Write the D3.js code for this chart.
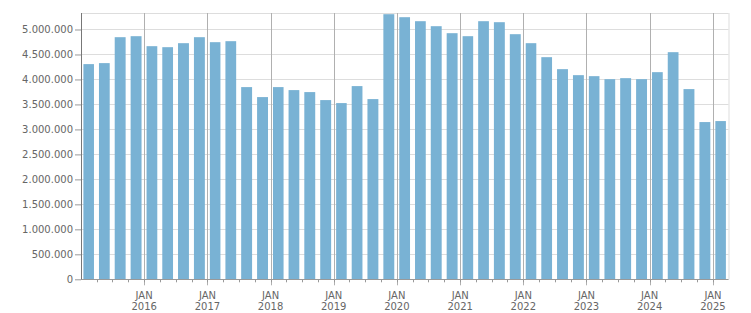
<!DOCTYPE html>
<html>
<head>
<meta charset="utf-8">
<script src="https://cdn.jsdelivr.net/npm/d3@7"></script>
<style>
  body { margin: 0; background: #fff; }
  text { font-family: "DejaVu Sans", sans-serif; font-size: 10px; fill: #666; }
</style>
</head>
<body>
<div id="chart"></div>
<script>
// quarter start dates and values
var quarters = [
  "2015-01-01", "2015-04-01", "2015-07-01", "2015-10-01",
  "2016-01-01", "2016-04-01", "2016-07-01", "2016-10-01",
  "2017-01-01", "2017-04-01", "2017-07-01", "2017-10-01",
  "2018-01-01", "2018-04-01", "2018-07-01", "2018-10-01",
  "2019-01-01", "2019-04-01", "2019-07-01", "2019-10-01",
  "2020-01-01", "2020-04-01", "2020-07-01", "2020-10-01",
  "2021-01-01", "2021-04-01", "2021-07-01", "2021-10-01",
  "2022-01-01", "2022-04-01", "2022-07-01", "2022-10-01",
  "2023-01-01", "2023-04-01", "2023-07-01", "2023-10-01",
  "2024-01-01", "2024-04-01", "2024-07-01", "2024-10-01",
  "2025-01-01"
];

var values = [
  4307000, 4327000, 4846000, 4866000,
  4666000, 4646000, 4726000, 4846000,
  4746000, 4766000, 3847000, 3647000,
  3847000, 3787000, 3747000, 3587000,
  3527000, 3867000, 3607000, 5306000,
  5246000, 5166000, 5066000, 4926000,
  4866000, 5166000, 5146000, 4906000,
  4726000, 4446000, 4206000, 4086000,
  4066000, 4006000, 4026000, 4006000,
  4146000, 4546000, 3807000, 3147000,
  3167000
];

var yTicks = [0, 500000, 1000000, 1500000, 2000000, 2500000, 3000000, 3500000, 4000000, 4500000, 5000000];
var yearLabels = ["2016", "2017", "2018", "2019", "2020", "2021", "2022", "2023", "2024", "2025"];

var svgWidth = 751;
var svgHeight = 313;

var margin = { top: 13, right: 22.5, bottom: 33.7, left: 81 };
var width = svgWidth - margin.left - margin.right;
var height = svgHeight - margin.top - margin.bottom;

var parseDate = d3.timeParse("%Y-%m-%d");

var data = quarters.map(function (q, i) {
  var start = parseDate(q);
  return { start: start, end: d3.timeMonth.offset(start, 3), value: values[i] };
});

var svg = d3.select("#chart")
  .append("svg")
  .attr("width", svgWidth)
  .attr("height", svgHeight);

var chartGroup = svg.append("g")
  .attr("transform", `translate(${margin.left}, ${margin.top})`);

var xScale = d3.scaleTime()
  .domain([parseDate("2015-01-01"), parseDate("2025-04-01")])
  .range([0, width]);

var yScale = d3.scaleLinear()
  .domain([0, 5330000])
  .range([height, 0]);

var locale = d3.formatLocale({ decimal: ",", thousands: ".", grouping: [3], currency: ["", ""] });
var fmt = locale.format(",.0f");

// horizontal grid
chartGroup.append("g")
  .selectAll("line")
  .data(yTicks.concat([5330000]))
  .enter()
  .append("line")
  .attr("x1", 0)
  .attr("x2", width)
  .attr("y1", d => Math.round(yScale(d)) + 0.5)
  .attr("y2", d => Math.round(yScale(d)) + 0.5)
  .attr("stroke", "#dddddd");

// right border
chartGroup.append("line")
  .attr("x1", width + 0.5)
  .attr("x2", width + 0.5)
  .attr("y1", 0)
  .attr("y2", height)
  .attr("stroke", "#dddddd");

// bars
chartGroup.selectAll("rect")
  .data(data)
  .enter()
  .append("rect")
  .attr("x", d => xScale(d.start) + 2.4)
  .attr("width", d => xScale(d.end) - xScale(d.start) - 5)
  .attr("y", d => yScale(d.value))
  .attr("height", d => height - yScale(d.value))
  .attr("fill", "#79b2d4");

// year gridlines
var yearDates = yearLabels.map(y => parseDate(y + "-01-01"));

chartGroup.append("g")
  .selectAll("line")
  .data(yearDates)
  .enter()
  .append("line")
  .attr("x1", d => Math.round(xScale(d)) + 0.5)
  .attr("x2", d => Math.round(xScale(d)) + 0.5)
  .attr("y1", 0)
  .attr("y2", height + 6)
  .attr("stroke", "#b0b0b0");

// quarter ticks
chartGroup.append("g")
  .selectAll("line")
  .data(data.slice(1))
  .enter()
  .append("line")
  .attr("x1", d => Math.round(xScale(d.start)) + 0.5)
  .attr("x2", d => Math.round(xScale(d.start)) + 0.5)
  .attr("y1", height)
  .attr("y2", height + 3)
  .attr("stroke", "#999999");

// x axis line
chartGroup.append("line")
  .attr("x1", 0)
  .attr("x2", width)
  .attr("y1", Math.round(height) + 0.5)
  .attr("y2", Math.round(height) + 0.5)
  .attr("stroke", "#999999");

// x labels
var xLabels = chartGroup.append("g")
  .selectAll("text")
  .data(yearDates)
  .enter()
  .append("text")
  .attr("x", d => xScale(d))
  .attr("y", height + 20)
  .attr("text-anchor", "middle");

xLabels.append("tspan")
  .attr("x", d => xScale(d))
  .text("JAN");

xLabels.append("tspan")
  .attr("x", d => xScale(d))
  .attr("dy", 11)
  .text((d, i) => yearLabels[i]);

// y axis
var leftAxis = d3.axisLeft(yScale)
  .tickValues(yTicks)
  .tickFormat(fmt)
  .tickSize(6)
  .tickPadding(2);

var yAxis = chartGroup.append("g")
  .call(leftAxis);

yAxis.select(".domain").remove();
yAxis.selectAll(".tick line").attr("stroke", "#999999");
yAxis.selectAll("text")
  .attr("fill", "#666")
  .style("font-family", "DejaVu Sans, sans-serif")
  .style("font-size", "10px");

chartGroup.append("line")
  .attr("x1", 0.5)
  .attr("x2", 0.5)
  .attr("y1", 0)
  .attr("y2", height)
  .attr("stroke", "#777777");
</script>
</body>
</html>
